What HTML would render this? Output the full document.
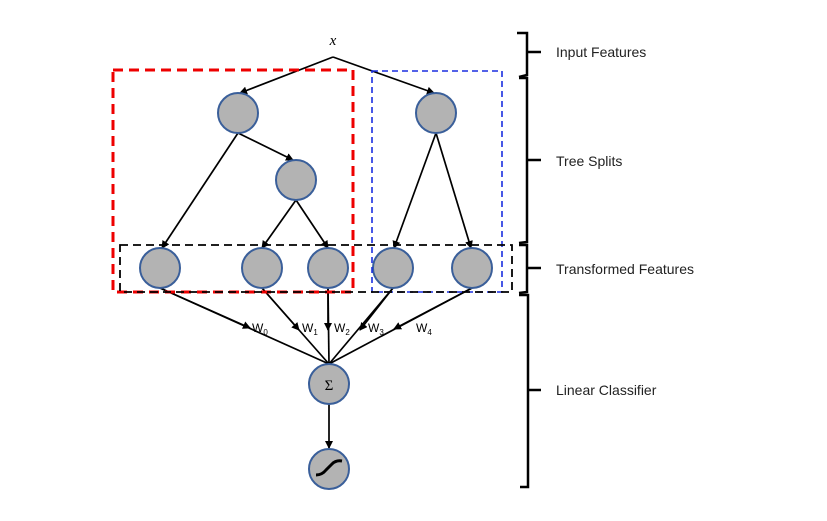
<html><body style="margin:0;background:#fff">
<svg width="827" height="521" xmlns="http://www.w3.org/2000/svg" font-family="Liberation Sans, sans-serif">
<defs><marker id="a" markerWidth="8" markerHeight="8" refX="7" refY="4" orient="auto" markerUnits="userSpaceOnUse"><path d="M0,0 L8,4 L0,8 z" fill="#000"/></marker></defs>
<g stroke="#000" stroke-width="1.7" fill="none">
<line x1="333" y1="57" x2="240" y2="93" marker-end="url(#a)"/>
<line x1="333" y1="57" x2="434" y2="93" marker-end="url(#a)"/>
<line x1="238" y1="133" x2="162" y2="248" marker-end="url(#a)"/>
<line x1="238" y1="133" x2="293" y2="160" marker-end="url(#a)"/>
<line x1="296" y1="200" x2="262" y2="248" marker-end="url(#a)"/>
<line x1="296" y1="200" x2="328" y2="248" marker-end="url(#a)"/>
<line x1="436" y1="133" x2="394" y2="248" marker-end="url(#a)"/>
<line x1="436" y1="133" x2="471" y2="248" marker-end="url(#a)"/>
<line x1="160" y1="288" x2="329" y2="364"/><line x1="160" y1="288" x2="250" y2="328" marker-end="url(#a)"/>
<line x1="262" y1="288" x2="329" y2="364"/><line x1="262" y1="288" x2="299" y2="330" marker-end="url(#a)"/>
<line x1="328" y1="288" x2="329" y2="364"/><line x1="328" y1="288" x2="328" y2="330" marker-end="url(#a)"/>
<line x1="393" y1="288" x2="329" y2="364"/><line x1="393" y1="288" x2="360" y2="330" marker-end="url(#a)"/>
<line x1="472" y1="288" x2="329" y2="364"/><line x1="472" y1="288" x2="394" y2="329" marker-end="url(#a)"/>
<line x1="329" y1="404" x2="329" y2="448" marker-end="url(#a)"/>
</g>
<g fill="#b3b3b3" stroke="#3a5f9a" stroke-width="2">
<circle cx="238" cy="113" r="20"/><circle cx="436" cy="113" r="20"/><circle cx="296" cy="180" r="20"/>
<circle cx="160" cy="268" r="20"/><circle cx="262" cy="268" r="20"/><circle cx="328" cy="268" r="20"/><circle cx="393" cy="268" r="20"/><circle cx="472" cy="268" r="20"/>
<circle cx="329" cy="384" r="20"/><circle cx="329" cy="469" r="20"/>
</g>
<path d="M316,475 Q322,475 326,470 L332,464 Q336,460 342,461" stroke="#000" stroke-width="3" fill="none"/>
<text x="329" y="390" font-size="15" text-anchor="middle" font-family="Liberation Serif, serif">Σ</text>
<text x="333" y="45" font-size="15" text-anchor="middle" font-style="italic" font-family="Liberation Serif, serif">x</text>
<rect x="113" y="70" width="240" height="222" fill="none" stroke="#e00" stroke-width="3" stroke-dasharray="10,6"/>
<rect x="372" y="71" width="130" height="221" fill="none" stroke="#1a2fe0" stroke-width="1.6" stroke-dasharray="6,4"/>
<rect x="120" y="245" width="392" height="47" fill="none" stroke="#000" stroke-width="1.8" stroke-dasharray="8,5"/>
<g font-size="12"><text x="252" y="332">W<tspan font-size="8" dy="3">0</tspan></text><text x="302" y="332">W<tspan font-size="8" dy="3">1</tspan></text><text x="334" y="332">W<tspan font-size="8" dy="3">2</tspan></text><text x="368" y="332">W<tspan font-size="8" dy="3">3</tspan></text><text x="416" y="332">W<tspan font-size="8" dy="3">4</tspan></text></g>
<g stroke="#000" stroke-width="2.5" fill="none">
<path d="M517,33 L527,33 L527,75 L519,77 M527,52 L541,52"/>
<path d="M519,78 L527,78 L527,242 L519,243 M527,160 L541,160"/>
<path d="M519,245 L527,245 L527,292 L519,293 M527,268 L541,268"/>
<path d="M519,295 L528,295 L528,487 L520,487 M528,390 L541,390"/>
</g>
<g font-size="14" fill="#222"><text x="556" y="57">Input Features</text><text x="556" y="166">Tree Splits</text><text x="556" y="274">Transformed Features</text><text x="556" y="395">Linear Classifier</text></g>
</svg></body></html>
